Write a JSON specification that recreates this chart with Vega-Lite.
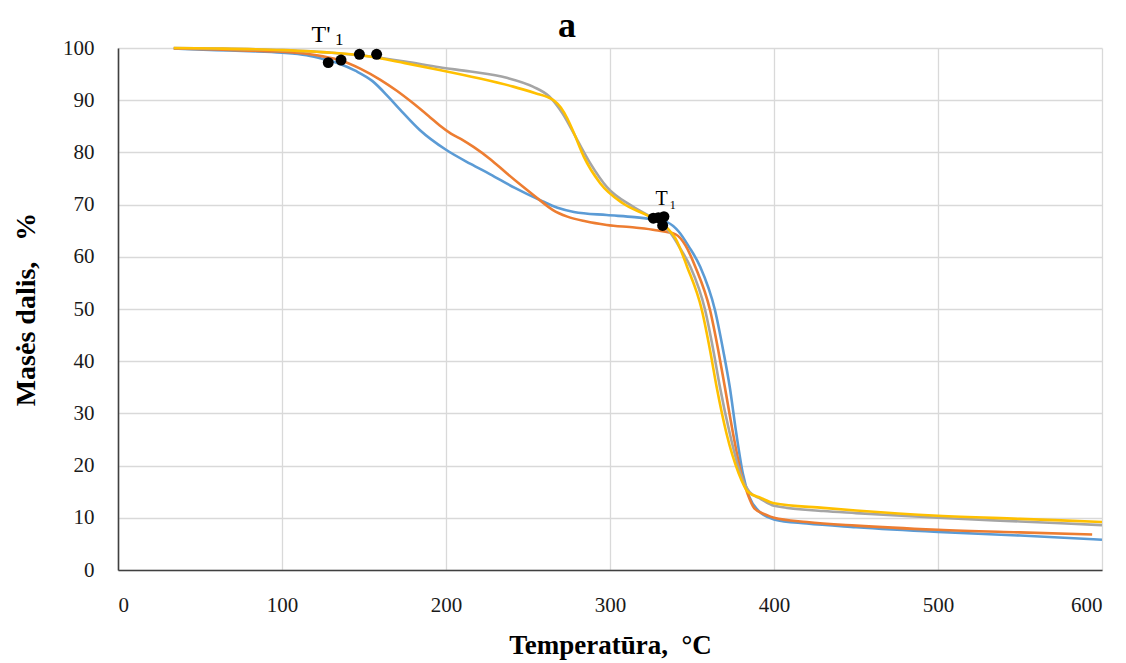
{
  "$schema": "https://vega.github.io/schema/vega-lite/v6.json",
  "width": 984,
  "height": 522,
  "autosize": {"type": "none"},
  "padding": {"left": 118, "top": 48, "right": 24, "bottom": 93},
  "background": "white",
  "config": {
    "view": {"stroke": null},
    "font": "Liberation Serif",
    "axis": {
      "labelFont": "Liberation Serif",
      "titleFont": "Liberation Serif",
      "labelFontSize": 21,
      "labelColor": "#1a1a1a",
      "titleFontWeight": "bold",
      "titleColor": "#000000",
      "gridColor": "#d9d9d9",
      "gridWidth": 1.3,
      "domainColor": "#404040",
      "domainWidth": 1.6,
      "ticks": false,
      "tickSize": 0
    }
  },
  "datasets": {
    "curves": [
      {"s": "1", "t": 34, "m": 99.9}, {"s": "1", "t": 60, "m": 99.6}, {"s": "1", "t": 80, "m": 99.4}, {"s": "1", "t": 100, "m": 99.1}, {"s": "1", "t": 115, "m": 98.6}, {"s": "1", "t": 125, "m": 97.9}, {"s": "1", "t": 135, "m": 97.0}, {"s": "1", "t": 145, "m": 95.6}, {"s": "1", "t": 155, "m": 93.7}, {"s": "1", "t": 165, "m": 90.6}, {"s": "1", "t": 172, "m": 88.2}, {"s": "1", "t": 184, "m": 84.3}, {"s": "1", "t": 200, "m": 80.5}, {"s": "1", "t": 215, "m": 77.8}, {"s": "1", "t": 227, "m": 75.8}, {"s": "1", "t": 242, "m": 73.2}, {"s": "1", "t": 257, "m": 70.9}, {"s": "1", "t": 268, "m": 69.4}, {"s": "1", "t": 278, "m": 68.6}, {"s": "1", "t": 298, "m": 68.0}, {"s": "1", "t": 315, "m": 67.6}, {"s": "1", "t": 325, "m": 67.2}, {"s": "1", "t": 335, "m": 66.6}, {"s": "1", "t": 342, "m": 64.8}, {"s": "1", "t": 348, "m": 62.0}, {"s": "1", "t": 355, "m": 58.1}, {"s": "1", "t": 364, "m": 49.8}, {"s": "1", "t": 369, "m": 42.1}, {"s": "1", "t": 373, "m": 35.1}, {"s": "1", "t": 377, "m": 26.2}, {"s": "1", "t": 381, "m": 18.5}, {"s": "1", "t": 385, "m": 14.0}, {"s": "1", "t": 390, "m": 11.5}, {"s": "1", "t": 400, "m": 9.7}, {"s": "1", "t": 420, "m": 8.9}, {"s": "1", "t": 450, "m": 8.2}, {"s": "1", "t": 500, "m": 7.3}, {"s": "1", "t": 550, "m": 6.6}, {"s": "1", "t": 600, "m": 5.8},
      {"s": "2", "t": 34, "m": 99.9}, {"s": "2", "t": 60, "m": 99.7}, {"s": "2", "t": 80, "m": 99.5}, {"s": "2", "t": 100, "m": 99.3}, {"s": "2", "t": 115, "m": 98.9}, {"s": "2", "t": 125, "m": 98.4}, {"s": "2", "t": 135, "m": 97.7}, {"s": "2", "t": 148, "m": 96.0}, {"s": "2", "t": 160, "m": 93.9}, {"s": "2", "t": 170, "m": 91.8}, {"s": "2", "t": 180, "m": 89.4}, {"s": "2", "t": 190, "m": 86.8}, {"s": "2", "t": 196, "m": 85.2}, {"s": "2", "t": 203, "m": 83.6}, {"s": "2", "t": 210, "m": 82.4}, {"s": "2", "t": 217, "m": 81.0}, {"s": "2", "t": 227, "m": 78.7}, {"s": "2", "t": 237, "m": 76.0}, {"s": "2", "t": 247, "m": 73.4}, {"s": "2", "t": 257, "m": 70.9}, {"s": "2", "t": 265, "m": 69.0}, {"s": "2", "t": 274, "m": 67.7}, {"s": "2", "t": 285, "m": 66.8}, {"s": "2", "t": 298, "m": 66.1}, {"s": "2", "t": 315, "m": 65.6}, {"s": "2", "t": 328, "m": 65.1}, {"s": "2", "t": 340, "m": 64.3}, {"s": "2", "t": 346, "m": 62.2}, {"s": "2", "t": 352, "m": 58.1}, {"s": "2", "t": 361, "m": 49.8}, {"s": "2", "t": 366, "m": 42.1}, {"s": "2", "t": 370, "m": 35.1}, {"s": "2", "t": 375, "m": 26.2}, {"s": "2", "t": 380, "m": 18.5}, {"s": "2", "t": 384, "m": 14.5}, {"s": "2", "t": 388, "m": 11.8}, {"s": "2", "t": 395, "m": 10.6}, {"s": "2", "t": 400, "m": 10.0}, {"s": "2", "t": 420, "m": 9.2}, {"s": "2", "t": 450, "m": 8.5}, {"s": "2", "t": 500, "m": 7.7}, {"s": "2", "t": 550, "m": 7.2}, {"s": "2", "t": 594, "m": 6.8},
      {"s": "3", "t": 34, "m": 100}, {"s": "3", "t": 60, "m": 99.9}, {"s": "3", "t": 100, "m": 99.6}, {"s": "3", "t": 130, "m": 99.1}, {"s": "3", "t": 150, "m": 98.5}, {"s": "3", "t": 175, "m": 97.4}, {"s": "3", "t": 196, "m": 96.3}, {"s": "3", "t": 215, "m": 95.5}, {"s": "3", "t": 237, "m": 94.3}, {"s": "3", "t": 253, "m": 92.6}, {"s": "3", "t": 263, "m": 90.7}, {"s": "3", "t": 271, "m": 87.5}, {"s": "3", "t": 280, "m": 82.4}, {"s": "3", "t": 288, "m": 77.9}, {"s": "3", "t": 298, "m": 73.4}, {"s": "3", "t": 314, "m": 69.6}, {"s": "3", "t": 328, "m": 67.0}, {"s": "3", "t": 337, "m": 64.5}, {"s": "3", "t": 343, "m": 61.5}, {"s": "3", "t": 349, "m": 58.1}, {"s": "3", "t": 358, "m": 49.8}, {"s": "3", "t": 363, "m": 42.1}, {"s": "3", "t": 367, "m": 35.1}, {"s": "3", "t": 373, "m": 26.2}, {"s": "3", "t": 379.5, "m": 18.5}, {"s": "3", "t": 385, "m": 15.0}, {"s": "3", "t": 392, "m": 13.6}, {"s": "3", "t": 400, "m": 12.3}, {"s": "3", "t": 430, "m": 11.3}, {"s": "3", "t": 450, "m": 10.9}, {"s": "3", "t": 500, "m": 10.0}, {"s": "3", "t": 550, "m": 9.3}, {"s": "3", "t": 600, "m": 8.6},
      {"s": "4", "t": 34, "m": 100}, {"s": "4", "t": 60, "m": 99.9}, {"s": "4", "t": 100, "m": 99.6}, {"s": "4", "t": 130, "m": 99.1}, {"s": "4", "t": 150, "m": 98.5}, {"s": "4", "t": 175, "m": 97.1}, {"s": "4", "t": 196, "m": 95.8}, {"s": "4", "t": 220, "m": 94.2}, {"s": "4", "t": 241, "m": 92.6}, {"s": "4", "t": 255, "m": 91.3}, {"s": "4", "t": 262, "m": 90.6}, {"s": "4", "t": 266, "m": 89.9}, {"s": "4", "t": 270, "m": 88.6}, {"s": "4", "t": 274, "m": 86.5}, {"s": "4", "t": 278, "m": 83.7}, {"s": "4", "t": 284, "m": 79.2}, {"s": "4", "t": 294, "m": 74.1}, {"s": "4", "t": 308, "m": 70.2}, {"s": "4", "t": 324, "m": 67.7}, {"s": "4", "t": 335, "m": 65.5}, {"s": "4", "t": 340, "m": 63.5}, {"s": "4", "t": 347, "m": 58.1}, {"s": "4", "t": 356, "m": 49.8}, {"s": "4", "t": 361, "m": 42.1}, {"s": "4", "t": 365, "m": 35.1}, {"s": "4", "t": 371, "m": 26.2}, {"s": "4", "t": 378.5, "m": 18.5}, {"s": "4", "t": 384, "m": 15.0}, {"s": "4", "t": 392, "m": 13.8}, {"s": "4", "t": 400, "m": 12.8}, {"s": "4", "t": 430, "m": 11.9}, {"s": "4", "t": 450, "m": 11.4}, {"s": "4", "t": 500, "m": 10.4}, {"s": "4", "t": 550, "m": 9.8}, {"s": "4", "t": 600, "m": 9.2}
    ],
    "dots": [
      {"t": 128.2, "m": 97.2}, {"t": 136, "m": 97.7}, {"t": 147.2, "m": 98.8}, {"t": 157.7, "m": 98.8},
      {"t": 326.4, "m": 67.4}, {"t": 329.5, "m": 67.5}, {"t": 332.9, "m": 67.7}, {"t": 332.1, "m": 66.0}
    ],
    "labels": [
      {"t": 123.8, "m": 101.2, "txt": "T'", "sz": 24, "w": "normal"},
      {"t": 134.9, "m": 100.6, "txt": "1", "sz": 17, "w": "normal"},
      {"t": 331.4, "m": 70.0, "txt": "T", "sz": 20, "w": "normal"},
      {"t": 338.2, "m": 69.2, "txt": "1", "sz": 12, "w": "normal"}
    ],
    "heading": [
      {"t": 273.8, "m": 102.1, "txt": "a"}
    ]
  },
  "layer": [
    {
      "data": {"name": "curves"},
      "mark": {"type": "line", "strokeWidth": 2.6, "interpolate": "monotone"},
      "encoding": {
        "x": {
          "field": "t", "type": "quantitative",
          "scale": {"domain": [0, 600], "nice": false},
          "axis": {"title": "Temperatūra,\u00a0\u00a0°C", "titleFontSize": 27, "values": [0, 100, 200, 300, 400, 500, 600], "labelPadding": 24, "titlePadding": 17}
        },
        "y": {
          "field": "m", "type": "quantitative",
          "scale": {"domain": [0, 100], "nice": false},
          "axis": {"title": "Masės dalis,\u00a0\u00a0\u00a0%", "titleFontSize": 28, "values": [0, 10, 20, 30, 40, 50, 60, 70, 80, 90, 100], "labelPadding": 24, "titlePadding": 22}
        },
        "color": {
          "field": "s", "type": "nominal",
          "scale": {"domain": ["1", "2", "3", "4"], "range": ["#5B9BD5", "#ED7D31", "#A5A5A5", "#FFC000"]},
          "legend": null
        },
        "order": {"field": "t", "type": "quantitative"}
      }
    },
    {
      "data": {"name": "dots"},
      "mark": {"type": "point", "filled": true, "color": "#000000", "opacity": 1, "size": 120},
      "encoding": {
        "x": {"field": "t", "type": "quantitative"},
        "y": {"field": "m", "type": "quantitative"}
      }
    },
    {
      "data": {"name": "labels"},
      "mark": {"type": "text", "font": "Liberation Serif", "color": "#000000", "baseline": "alphabetic", "align": "center"},
      "encoding": {
        "x": {"field": "t", "type": "quantitative"},
        "y": {"field": "m", "type": "quantitative"},
        "text": {"field": "txt"},
        "size": {"field": "sz", "type": "quantitative", "scale": null}
      }
    },
    {
      "data": {"name": "heading"},
      "mark": {"type": "text", "font": "Liberation Serif", "fontWeight": "bold", "fontSize": 36, "color": "#000000", "baseline": "alphabetic", "align": "center"},
      "encoding": {
        "x": {"field": "t", "type": "quantitative"},
        "y": {"field": "m", "type": "quantitative"},
        "text": {"field": "txt"}
      }
    }
  ]
}
